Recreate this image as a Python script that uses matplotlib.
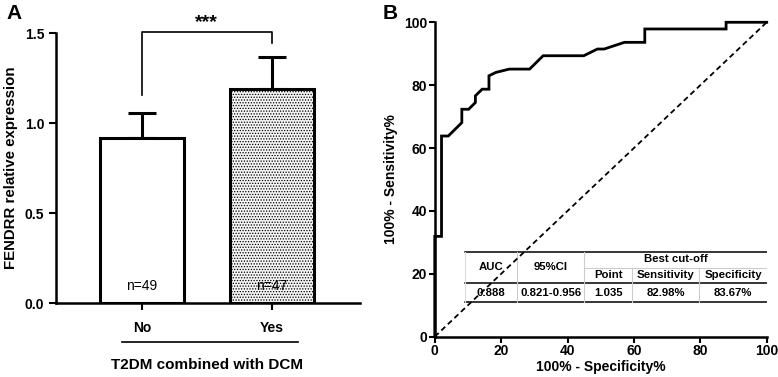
import matplotlib.pyplot as plt
import numpy as np

plt.rcParams['font.family'] = ['Liberation Sans', 'DejaVu Sans']
plt.rcParams['font.weight'] = 'bold'
plt.rcParams['axes.labelweight'] = 'bold'
plt.rcParams['hatch.color'] = '#bdbdbd'
plt.rcParams['hatch.linewidth'] = 0.6

# panel A data
groups = ['No', 'Yes']
means = [0.917, 1.19]
errs = [0.139, 0.177]
n_labels = ['n=49', 'n=47']

# panel B data (ROC curve, percent)
fpr = [0, 0, 2.04, 2.04, 4.08, 8.16, 8.16, 10.2, 12.24, 12.24, 14.29, 16.33, 16.33,
       18.37, 22.45, 28.57, 32.65, 44.9, 48.98, 51.02, 57.14, 63.27, 63.27, 87.76, 87.76, 100]
tpr = [0, 31.91, 31.91, 63.83, 63.83, 68.09, 72.34, 72.34, 74.47, 76.6, 78.72, 78.72, 82.98,
       84.04, 85.11, 85.11, 89.36, 89.36, 91.49, 91.49, 93.62, 93.62, 97.87, 97.87, 100, 100]

tbl_cols = ['AUC', '95%CI', 'Point', 'Sensitivity', 'Specificity']
tbl_vals = ['0.888', '0.821-0.956', '1.035', '82.98%', '83.67%']

fig = plt.figure(figsize=(7.78, 3.77), dpi=100)

# ---- panel A ----
ax = fig.add_axes([0.072, 0.196, 0.391, 0.716])
x = np.arange(len(groups))
ax.bar(x, means, width=0.646, color=['white', '#f4f4f4'], edgecolor='black',
       linewidth=2.2, hatch=[None, '......'], zorder=2)
ax.errorbar(x, means, yerr=[[0, 0], errs], fmt='none', ecolor='black',
            elinewidth=2.2, capsize=10, capthick=2.2, zorder=1)
for xi, t in zip(x, n_labels):
    ax.text(xi, 0.095, t, ha='center', va='center', fontsize=10, fontweight='normal', zorder=3)

ax.plot([0, 0, 1, 1], [1.156, 1.505, 1.505, 1.444], color='black', lw=1.2, clip_on=False)
ax.text(0.5, 1.56, '***', ha='center', va='center', fontsize=14)

ax.set_xlim(-0.66, 1.68)
ax.set_ylim(0, 1.5)
ax.set_yticks([0, 0.5, 1.0, 1.5])
ax.set_yticklabels(['0.0', '0.5', '1.0', '1.5'], fontweight='bold')
ax.set_xticks(x)
ax.set_xticklabels(groups, fontsize=11, fontweight='bold')
ax.spines['top'].set_visible(False)
ax.spines['right'].set_visible(False)
for s in ['left', 'bottom']:
    ax.spines[s].set_linewidth(1.8)
ax.tick_params(width=1.5, length=5, labelsize=10)
ax.tick_params(axis='x', pad=8)
ax.set_ylabel('FENDRR relative expression', fontsize=10.8, labelpad=5)
ax.plot([-0.15, 1.2], [-0.145, -0.145], color='black', lw=1.2,
        transform=ax.get_xaxis_transform(), clip_on=False)
ax.text(0.5, -0.23, 'T2DM combined with DCM', ha='center', va='center',
        fontsize=11, transform=ax.get_xaxis_transform())
fig.text(0.008, 0.965, 'A', fontsize=15, ha='left', va='center')

# ---- panel B ----
bx = fig.add_axes([0.5588, 0.1069, 0.4267, 0.834])
bx.plot(fpr, tpr, color='black', lw=2.0, solid_joinstyle='miter', clip_on=False, zorder=3)
bx.plot([0, 100], [0, 100], color='black', lw=1.3, ls=(0, (3, 2)), zorder=2)
bx.set_xlim(0, 100)
bx.set_ylim(0, 100)
bx.set_xticks(np.arange(0, 101, 20))
bx.set_yticks(np.arange(0, 101, 20))
for lab in bx.get_xticklabels() + bx.get_yticklabels():
    lab.set_fontweight('bold')
bx.spines['top'].set_visible(False)
bx.spines['right'].set_visible(False)
for s in ['left', 'bottom']:
    bx.spines[s].set_linewidth(1.8)
bx.tick_params(width=1.5, length=4, labelsize=10, pad=1.5)
bx.set_xlabel('100% - Specificity%', fontsize=10, labelpad=1)
bx.set_ylabel('100% - Sensitivity%', fontsize=10, labelpad=4)
fig.text(0.492, 0.965, 'B', fontsize=15, ha='left', va='center')

# table inside panel B
xs = [9.2, 24.7, 45.1, 59.5, 79.7, 100]
y_top, y_mid, y_sub, y_bot = 26.8, 17.0, 22.0, 11.1
for yy in [y_top, y_mid, y_bot]:
    bx.plot([xs[0], xs[-1]], [yy, yy], color='black', lw=1.1, zorder=1)
bx.plot([xs[2], xs[-1]], [y_sub, y_sub], color='#cccccc', lw=0.8, zorder=1)
for i, xv in enumerate(xs[1:-1]):
    top = y_top if i < 2 else y_sub
    bx.plot([xv, xv], [y_bot, top], color='#cccccc', lw=0.8, zorder=1)
bx.plot([xs[0], xs[0]], [y_bot, y_top], color='#dddddd', lw=0.8, zorder=1)
bx.plot([xs[-1], xs[-1]], [y_bot, y_top], color='#dddddd', lw=0.8, zorder=1)
centers = [(xs[i] + xs[i + 1]) / 2 for i in range(5)]
bx.text((xs[2] + xs[-1]) / 2, 24.6, 'Best cut-off', ha='center', va='center', fontsize=8.2)
for i, (c, lab, val) in enumerate(zip(centers, tbl_cols, tbl_vals)):
    ly = 22.2 if i < 2 else 19.5
    bx.text(c, ly, lab, ha='center', va='center', fontsize=8.2)
    bx.text(c, 13.9, val, ha='center', va='center', fontsize=8.2)

fig.savefig('out.png', dpi=100)
